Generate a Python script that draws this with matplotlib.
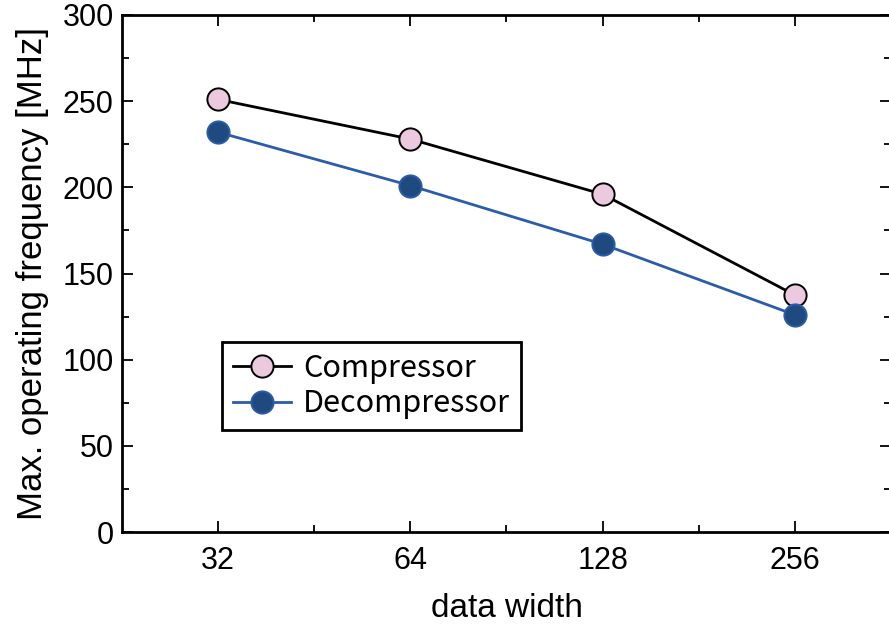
import matplotlib
matplotlib.use("Agg")
import matplotlib.pyplot as plt
import numpy as np

data_width = [32, 64, 128, 256]
compressor = [251, 228, 196, 137.5]
decompressor = [232, 201, 167, 126]

plt.rcParams['font.family'] = ['Liberation Sans', 'DejaVu Sans']

fig = plt.figure(figsize=(8.89, 6.24), dpi=100)
ax = fig.add_axes([122/889, 1-532/624, (891-122)/889, (532-15)/624])

x = np.log2(data_width)
ax.plot(x, compressor, '-o', color='black', lw=2.0, ms=16,
        mfc='#EBC9DF', mec='black', mew=1.4, label='Compressor', zorder=3)
ax.plot(x, decompressor, '-o', color='#2A5CAA', lw=2.0, ms=16,
        mfc='#1F4A80', mec='#2A5CAA', mew=1.4, label='Decompressor', zorder=3)

ax.set_xlim(x[0]-0.5, x[-1]+0.5)
ax.set_ylim(0, 300)
ax.set_xticks(x)
ax.set_xticklabels([str(v) for v in data_width])
ax.set_xticks(x[:-1]+0.5, minor=True)
ax.set_yticks(np.arange(0, 301, 50))
ax.set_yticks(np.arange(25, 300, 50), minor=True)

ax.tick_params(which='both', direction='in', top=True, right=True, width=1.3,
               labelsize=22, colors='black')
ax.tick_params(which='major', length=8)
ax.tick_params(which='minor', length=5)
ax.tick_params(axis='x', pad=10)
ax.tick_params(axis='y', pad=6)
for s in ax.spines.values():
    s.set_linewidth(2.0)

ax.set_xlabel('data width', fontsize=24, labelpad=12)
ax.set_ylabel('Max. operating frequency [MHz]', fontsize=25, labelpad=10)

leg = ax.legend(loc='upper left', bbox_to_anchor=(0.130, 0.3675), borderaxespad=0,
                fancybox=False, framealpha=1, edgecolor='black',
                prop={'family': ['Noto Sans CJK JP', 'DejaVu Sans'], 'size': 22},
                handlelength=1.9, handletextpad=0.4, borderpad=0.35, labelspacing=0.15)
leg.get_frame().set_linewidth(2.0)

fig.savefig('out.png', dpi=100)
